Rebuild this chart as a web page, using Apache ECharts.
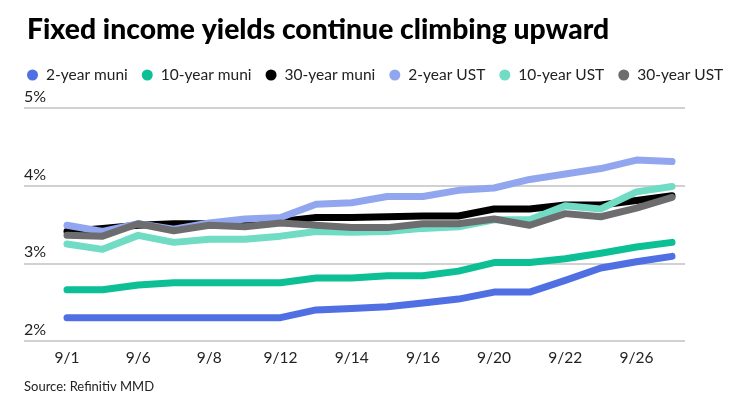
<!DOCTYPE html>
<html>
<head>
<meta charset="utf-8">
<script src="https://cdn.jsdelivr.net/npm/echarts@6/dist/echarts.min.js"></script>
<style>
html,body{margin:0;padding:0;background:#fff;}
#c{width:740px;height:416px;}
</style>
</head>
<body>
<div id="c"></div>
<script>
const dates = ['9/1','9/2','9/6','9/7','9/8','9/9','9/12','9/13','9/14','9/15','9/16','9/19','9/20','9/21','9/22','9/23','9/26','9/27'];
const tickLabelIdx = [0,2,4,6,8,10,12,14,16];
const yTicks = [2,3,4,5];

const muni2  = [2.30,2.30,2.30,2.30,2.30,2.30,2.30,2.40,2.42,2.44,2.49,2.54,2.63,2.63,2.78,2.94,3.02,3.09];
const muni10 = [2.66,2.66,2.72,2.75,2.75,2.75,2.75,2.81,2.81,2.84,2.84,2.90,3.01,3.01,3.06,3.13,3.21,3.27];
const muni30 = [3.41,3.45,3.49,3.51,3.51,3.51,3.54,3.59,3.59,3.60,3.61,3.61,3.70,3.70,3.75,3.75,3.81,3.87];
const ust2   = [3.49,3.41,3.51,3.44,3.52,3.57,3.59,3.76,3.78,3.86,3.86,3.94,3.97,4.08,4.15,4.22,4.33,4.31];
const ust10  = [3.25,3.18,3.36,3.27,3.31,3.31,3.35,3.41,3.40,3.41,3.45,3.47,3.56,3.56,3.74,3.70,3.92,3.99];
const ust30  = [3.36,3.35,3.51,3.42,3.49,3.47,3.52,3.49,3.46,3.46,3.51,3.51,3.57,3.49,3.64,3.60,3.71,3.85];

const seriesDefs = [
  {name:'2-year muni', data:muni2, color:'#4f6fe3'},
  {name:'10-year muni', data:muni10, color:'#0cbf94'},
  {name:'30-year muni', data:muni30, color:'#000000'},
  {name:'2-year UST', data:ust2, color:'#92a6f0'},
  {name:'10-year UST', data:ust10, color:'#6fdcc3'},
  {name:'30-year UST', data:ust30, color:'#6d6d6f'}
];

const chart = echarts.init(document.getElementById('c'), null, {renderer:'canvas'});
const F = 'Lato, "Noto Sans", sans-serif';
chart.setOption({
  animation:false,
  backgroundColor:'#fff',
  color: seriesDefs.map(s=>s.color),
  title:{
    text:'Fixed income yields continue climbing upward',
    left:22, top:11,
    textStyle:{fontFamily:F, fontWeight:900, fontSize:28.3, color:'#000'}
  },
  graphic:[{
    type:'text', left:24, top:380,
    style:{text:'Source: Refinitiv MMD', font:'13px Lato, "Noto Sans", sans-serif', fill:'#222'}
  }],
  legend:{
    left:22, top:62, width:718,
    icon:'circle', itemWidth:11, itemHeight:11, itemGap:14,
    textStyle:{fontFamily:F, fontSize:15.5, color:'#222', padding:[0,0,0,3]},
    data: seriesDefs.map(s=>s.name)
  },
  grid:{left:24, right:55, top:108, bottom:75, containLabel:false},
  xAxis:{
    type:'value',
    min:-1.208, max:17.365,
    axisLine:{show:false}, axisTick:{show:false}, splitLine:{show:false},
    axisLabel:{
      customValues: tickLabelIdx,
      formatter: v => dates[Math.round(v)] || '',
      fontFamily:F, fontSize:15.5, color:'#222', margin:9
    }
  },
  yAxis:{
    type:'value', min:2, max:5, interval:1,
    axisLine:{show:false}, axisTick:{show:false},
    splitLine:{lineStyle:{color:'#c2c2c2', width:1.5}},
    axisLabel:{
      inside:true, margin:0, verticalAlign:'bottom', padding:[0,0,3,0],
      formatter: v => yTicks.includes(v) ? v + '%' : '',
      fontFamily:F, fontSize:16, color:'#222'
    }
  },
  series: seriesDefs.map(s=>({
    name:s.name, type:'line',
    data: s.data.map((v,i)=>[i,v]),
    showSymbol:false, symbol:'circle',
    lineStyle:{width:7, color:s.color, cap:'round', join:'round'},
    itemStyle:{color:s.color}
  }))
});
</script>
</body>
</html>
